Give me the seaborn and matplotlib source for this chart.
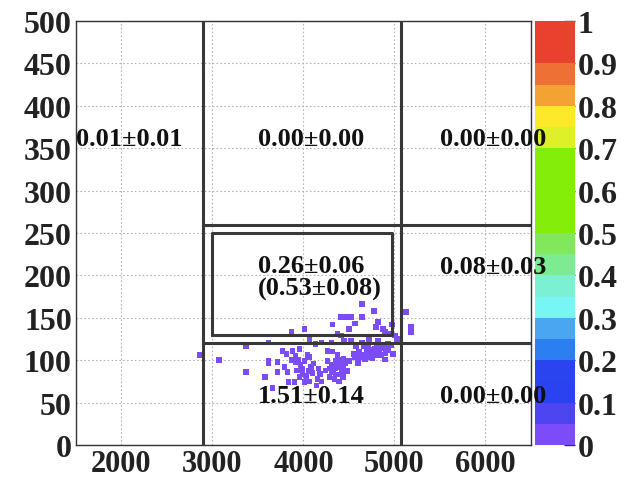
import numpy as np
import pandas as pd
import seaborn as sns
import matplotlib
matplotlib.use("Agg")
import matplotlib.pyplot as plt
from matplotlib.colors import ListedColormap, BoundaryNorm
from matplotlib.cm import ScalarMappable
from matplotlib.ticker import MultipleLocator, FixedLocator

sns.set_style("white")
plt.rcParams['font.family'] = ['Liberation Serif', 'DejaVu Serif']
plt.rcParams['font.weight'] = 'bold'

# ---- data: occupied bins (x, y) ----
x_vals = [2863, 3071, 3366, 3617, 3869, 3366, 3617, 3617, 3716, 3574, 3716, 3814, 3825, 3770,
          3880, 3913, 3913, 3945, 3967, 3989, 4011, 3836, 3902, 3661, 4011, 3956, 4011, 4044,
          4066, 4055, 4098, 4033, 3956, 4164, 4153, 4197, 4142, 4066, 4317, 4372, 4415, 4448,
          4415, 4470, 4525, 4645, 4645, 4776, 4820, 4798, 5126, 5180, 5180, 4896, 4951, 5005,
          5027, 4525, 4820, 4929, 5060, 4317, 4262, 4393, 4372, 4262, 4306, 4350, 4393, 4437,
          4306, 4350, 4393, 4437, 4393, 4350, 4459, 4481, 4284, 4601, 4612, 4656, 4700, 4743,
          4787, 4831, 4874, 4721, 4787, 4852, 4918, 4962, 4678, 4896, 4809, 4557, 4503, 4579,
          4645, 4721, 4984, 4306, 4197, 4131, 4066, 4503, 4874, 4973, 4568,
          3990, 4030, 4080, 4110, 3930, 3870, 4330, 4370, 4420, 4460, 4290, 4340, 4400, 4440,
          4690, 4740, 4760, 4810, 4850, 4900, 4710, 4660, 4610, 4560, 4240, 4180, 3790, 4930]
y_vals = [106, 100, 117, 121, 133, 86, 99, 96, 98, 80, 86, 107, 86, 111,
          111, 105, 98, 101, 94, 90, 99, 74, 74, 67, 74, 113, 137, 106,
          104, 87, 85, 78, 80, 90, 78, 75, 70, 75, 142, 131, 129, 123,
          151, 151, 151, 151, 166, 158, 145, 139, 157, 139, 133, 133, 131, 129,
          124, 123, 123, 119, 125, 110, 111, 101, 106, 99, 94, 90, 94, 90,
          87, 83, 83, 80, 75, 99, 97, 87, 80, 97, 104, 106, 111, 108,
          113, 111, 116, 104, 106, 106, 113, 118, 101, 101, 118, 107, 99, 116,
          121, 125, 107, 121, 121, 119, 125, 137, 137, 142, 143,
          84, 82, 92, 96, 88, 100, 86, 96, 86, 98, 90, 78, 92, 102,
          114, 112, 102, 108, 114, 108, 118, 116, 110, 104, 88, 84, 92, 112]

# region yields
region_labels = ["0.01\u00b10.01", "0.00\u00b10.00", "0.00\u00b10.00",
                 "0.26\u00b10.06", "(0.53\u00b10.08)", "0.08\u00b10.03",
                 "1.51\u00b10.14", "0.00\u00b10.00"]
label_x = [1500, 3500, 5500, 3500, 3500, 5500, 3500, 5500]
label_y = [362, 362, 362, 212, 185, 210, 58, 58]

# region boundaries
cut_x = [2900, 5070]
cut_y = [120, 260]
box_x = [3000, 4970]
box_y = [130, 250]

x_lim = [1500, 6500]
y_lim = [0, 500]
x_ticks = [2000, 3000, 4000, 5000, 6000]
y_ticks = [0, 50, 100, 150, 200, 250, 300, 350, 400, 450, 500]

cbar_ticks = [0, 0.1, 0.2, 0.3, 0.4, 0.5, 0.6, 0.7, 0.8, 0.9, 1]
cbar_ticklabels = ["0", "0.1", "0.2", "0.3", "0.4", "0.5", "0.6", "0.7", "0.8", "0.9", "1"]
palette_colors = ["#7b4cf8", "#4d45f2", "#2a42f0", "#2a44f0", "#2b7ff0", "#4aa6f0",
                  "#78f6f6", "#7cf0d2", "#7deb92", "#80e85a", "#84ee0a", "#84ee0a",
                  "#84ee0a", "#84ee0a", "#ddf02a", "#fde82a", "#f3a233", "#ee7035",
                  "#e8412e", "#e8412e"]

df = pd.DataFrame({"x": x_vals, "y": y_vals})

fig = plt.figure(figsize=(6.29, 4.81), dpi=100)
ax = fig.add_axes([0.1208, 0.0728, 0.7234, 0.8815])
cax = fig.add_axes([0.8506, 0.0728, 0.0636, 0.8815])
ax.set_zorder(3)

ax.set_xlim(x_lim)
ax.set_ylim(y_lim)
ax.xaxis.set_major_locator(FixedLocator(x_ticks))
ax.yaxis.set_major_locator(FixedLocator(y_ticks))
ax.xaxis.set_minor_locator(MultipleLocator(200))
ax.yaxis.set_minor_locator(MultipleLocator(10))
ax.grid(True, which='major', linestyle=(0, (1.5, 2)), color='#b5b5b5', linewidth=0.8, zorder=0)
ax.set_axisbelow(True)

sns.scatterplot(data=df, x="x", y="y", marker='s', s=16, color=palette_colors[0],
                edgecolor='none', linewidth=0, ax=ax, zorder=3, legend=False)

line_kw = dict(color='#383838', linewidth=2.2, zorder=4)
for cx in cut_x:
    ax.axvline(cx, **line_kw)
for cy in cut_y:
    ax.hlines(cy, cut_x[0], x_lim[1], **line_kw)
ax.plot([box_x[0], box_x[1], box_x[1], box_x[0], box_x[0]],
        [box_y[0], box_y[0], box_y[1], box_y[1], box_y[0]], **line_kw)

for lx, ly, txt in zip(label_x, label_y, region_labels):
    ax.text(lx, ly, txt, ha='left', va='center', fontsize=19, fontweight='bold',
            color='#111111', zorder=6, clip_on=False)

ax.set_xlabel("")
ax.set_ylabel("")
ax.tick_params(axis='both', which='both', direction='in', top=False, right=False,
               labelsize=23, colors='#222222', width=1.0)
ax.tick_params(axis='y', which='major', length=12, pad=3)
ax.tick_params(axis='y', which='minor', length=6)
ax.tick_params(axis='x', which='major', length=6.5, pad=3, labelsize=22)
ax.tick_params(axis='x', which='minor', length=3.5)
for sp in ax.spines.values():
    sp.set_color('#333333')
    sp.set_linewidth(1.0)

cmap = ListedColormap(palette_colors)
bounds = np.linspace(0, 1, len(palette_colors) + 1)
norm = BoundaryNorm(bounds, cmap.N)
sm = ScalarMappable(norm=norm, cmap=cmap)
cb = fig.colorbar(sm, cax=cax, ticks=cbar_ticks)
cb.outline.set_visible(False)
cb.ax.set_yticklabels(cbar_ticklabels)
cb.ax.tick_params(direction='in', length=8, width=1.0, color='#333333', labelsize=23,
                  pad=2, colors='#222222')
cb.ax.tick_params(which='minor', length=0)

fig.savefig("out.png", dpi=100)
